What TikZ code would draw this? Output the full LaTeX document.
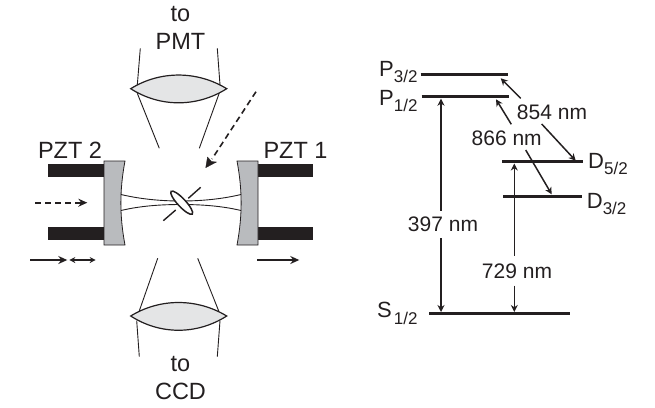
\documentclass[tikz,border=0pt]{standalone}
\usepackage{fontspec}
\setmainfont{Liberation Sans}
\usetikzlibrary{arrows.meta}
\definecolor{ink}{HTML}{231F20}
\definecolor{mirrorgray}{HTML}{B9BBBE}
\definecolor{lensgray}{HTML}{E4E5E6}
\newcommand{\lowered}[1]{\raisebox{-6.5pt}{\fontsize{17}{17}\selectfont #1}}
\tikzset{
  lbl/.style={font=\fontsize{21}{21}\selectfont,text=ink,inner sep=0pt,anchor=base},
  optlbl/.style={lbl,font=\fontsize{23.5}{23.5}\selectfont},
  lvl/.style={lbl,font=\fontsize{22}{22}\selectfont,anchor=base west},
  thin line/.style={draw=ink,line width=0.9pt},
  mirror/.style={fill=mirrorgray,draw=ink,line width=0.8pt},
  lens/.style={fill=lensgray,draw=ink,line width=1.2pt},
  level/.style={draw=ink,line width=2.8pt},
  arr/.style={draw=ink,line width=1.5pt,-{Stealth[length=7pt,width=7pt]}},
  big/.style={draw=ink,line width=1.6pt,-{Stealth[length=9pt,width=8pt]}},
  dashline/.style={draw=ink,line width=1.6pt,dash pattern=on 6pt off 4pt}
}
\begin{document}
\begin{tikzpicture}[x=1pt,y=-1pt]
\useasboundingbox (0,0) rectangle (655,407);
% bars
\fill[ink] (48,164) rectangle (105,177);
\fill[ink] (48,227) rectangle (105,240);
\fill[ink] (257,164) rectangle (313,177);
\fill[ink] (257,227) rectangle (313,240);
% mirrors
\draw[mirror] (104,161) -- (125,161) .. controls (119.5,190) and (119.5,216) .. (125,245) -- (104,245) -- cycle;
\draw[mirror] (258,161) -- (237,161) .. controls (242.5,190) and (242.5,216) .. (237,245) -- (258,245) -- cycle;
% beam
\draw[thin line] (121,194.5) .. controls (140,199) and (160,201) .. (181,201) .. controls (202,201) and (222,199) .. (241,194.5);
\draw[thin line] (121,210.5) .. controls (140,206) and (160,204.5) .. (181,204.5) .. controls (202,204.5) and (222,206) .. (241,210.5);
% ion plate
\draw[ink,line width=1.5pt,fill=white,rotate around={-47:(181.7,202.7)}] (181.7,202.7) ellipse [x radius=15.5,y radius=4];
\draw[ink,line width=1.4pt] (188.3,198.3) -- (200.7,187.3);
\draw[ink,line width=1.4pt] (163.3,220.7) -- (175.7,210);
% lens top
\draw[lens] (130.7,88.7) .. controls (160,70.5) and (197,70.5) .. (226.7,88.7) .. controls (197,107.5) and (160,107.5) .. (130.7,88.7) -- cycle;
\draw[thin line] (140.3,48.3) -- (137.3,85);
\draw[thin line] (217.3,48.3) -- (220,85);
\draw[thin line] (137.3,93.3) -- (159.3,148.3);
\draw[thin line] (219.3,93) -- (199.3,148.3);
% lens bottom
\draw[lens] (130.7,316) .. controls (160,298) and (197,298) .. (226.7,316) .. controls (197,335) and (160,335) .. (130.7,316) -- cycle;
\draw[thin line] (157.7,258.3) -- (139,311.7);
\draw[thin line] (197.7,258.3) -- (219,311.7);
\draw[thin line] (136.7,320.7) -- (139.3,356.7);
\draw[thin line] (220,320.7) -- (217.3,356.7);
% optical arrows
\draw[dashline] (256,91.7) -- (212,159);
\draw[ink,fill=ink,line width=0.3pt] (205.7,167.7) -- (207.5,157) -- (211.5,161.5) -- (216.5,162) -- cycle;
\draw[dashline] (35,202.7) -- (78,202.7);
\draw[big] (78,202.7) -- (87.3,202.7);
\draw[big] (30,260) -- (67.3,260);
\draw[draw=ink,line width=1.1pt,{Stealth[length=6pt,width=6pt]}-{Stealth[length=6pt,width=6pt]}] (69.3,260) -- (95.7,260);
\draw[big] (257.3,260) -- (299.3,260);
% optical labels
\node[optlbl] at (180.5,21.7) {to};
\node[optlbl] at (180.5,49) {PMT};
\node[optlbl] at (180.5,371.7) {to};
\node[optlbl] at (180.5,399.3) {CCD};
\node[optlbl] at (70,158) {PZT 2};
\node[optlbl] at (295.5,158) {PZT 1};
% levels
\draw[level] (420.7,74.7) -- (508.3,74.7);
\draw[level] (421.7,96.3) -- (509,96.3);
\draw[level] (502.3,161.7) -- (583.3,161.7);
\draw[level] (503.3,196.3) -- (582.3,196.3);
\draw[level] (429,313.7) -- (570,313.7);
% transitions
\draw[arr] (520.7,98.3) -- (500.7,78.3);
\draw[arr] (541.7,124) -- (575.7,160.7);
\draw[arr] (511.3,124.3) -- (496,99.3);
\draw[arr] (525.7,150) -- (551.7,194.3);
\draw[arr] (441,210.7) -- (441,98.7);
\draw[arr] (441,238.3) -- (441,312);
\draw[arr] (514.3,255.7) -- (514.3,163.5);
\draw[arr] (514.3,285.7) -- (514.3,312);
% level labels
\node[lvl] at (379,76) {P\lowered{3/2}};
\node[lvl] at (379,105) {P\lowered{1/2}};
\node[lvl] at (588,168.3) {D\lowered{5/2}};
\node[lvl] at (586.7,208) {D\lowered{3/2}};
\node[lvl] at (377,317.7) {S\hspace{2pt}\lowered{1/2}};
\node[lbl] at (552,119) {854 nm};
\node[lbl] at (506.7,145) {866 nm};
\node[lbl] at (443,231.7) {397 nm};
\node[lbl] at (517,278.7) {729 nm};
\end{tikzpicture}
\end{document}
